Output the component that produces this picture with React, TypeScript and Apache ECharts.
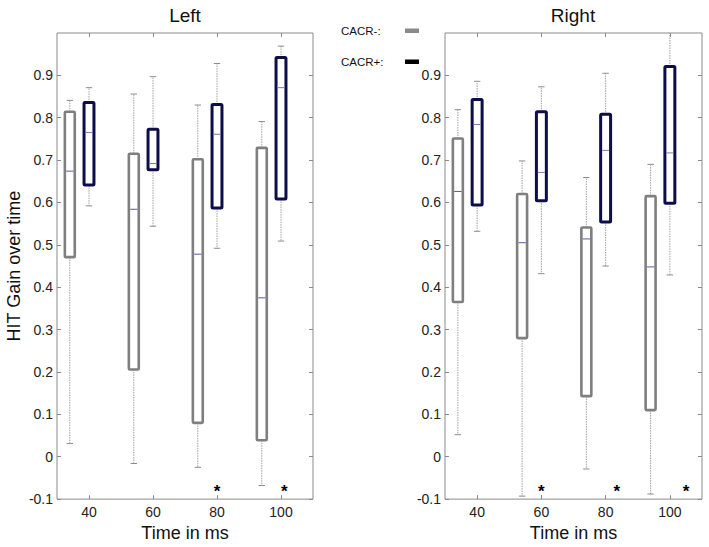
import React, { useEffect, useRef } from "react";
import * as echarts from "echarts";

// ---- data ----
const TIMES = [40, 60, 80, 100];
const X_TICKS = [40, 60, 80, 100];
const Y_TICKS = [-0.1, 0, 0.1, 0.2, 0.3, 0.4, 0.5, 0.6, 0.7, 0.8, 0.9];
const NEG_OFFSET = -6; // CACR- box sits left of its time tick

// [low whisker, q1, median, q3, high whisker]
const leftNeg = [
  [0.031, 0.471, 0.674, 0.814, 0.841],
  [-0.016, 0.206, 0.584, 0.715, 0.856],
  [-0.025, 0.08, 0.478, 0.702, 0.83],
  [-0.068, 0.039, 0.375, 0.729, 0.791],
];
const leftPos = [
  [0.592, 0.641, 0.765, 0.836, 0.871],
  [0.544, 0.677, 0.692, 0.773, 0.897],
  [0.492, 0.587, 0.761, 0.831, 0.928],
  [0.509, 0.608, 0.871, 0.942, 0.969],
];
const rightNeg = [
  [0.052, 0.365, 0.626, 0.751, 0.819],
  [-0.093, 0.28, 0.505, 0.62, 0.698],
  [-0.029, 0.143, 0.514, 0.541, 0.659],
  [-0.088, 0.11, 0.448, 0.615, 0.69],
];
const rightPos = [
  [0.532, 0.594, 0.784, 0.843, 0.886],
  [0.432, 0.604, 0.671, 0.814, 0.873],
  [0.45, 0.554, 0.723, 0.808, 0.905],
  [0.429, 0.598, 0.717, 0.921, 1.05],
];
const leftStarsX = [80, 101];
const rightStarsX = [60, 83.5, 105];
const STAR_Y = -0.072;

const FONT = "'Liberation Sans', Arial, Helvetica, sans-serif";
const BOX_W = 3.1;
const CAP_W = 2;

function toItems(stats: number[][], offset: number) {
  return stats.map((s, i) => [TIMES[i] + offset, ...s]);
}

function boxRender(stroke: string, lw: number, medColor: string) {
  return (params: any, api: any) => {
    const x = api.value(0);
    const lo = api.coord([x, api.value(1)]);
    const q1 = api.coord([x, api.value(2)]);
    const md = api.coord([x, api.value(3)]);
    const q3 = api.coord([x, api.value(4)]);
    const hi = api.coord([x, api.value(5)]);
    const w = api.size([BOX_W, 0])[0];
    const cw = api.size([CAP_W, 0])[0];
    const cx = lo[0];
    const wh = { stroke: "#a0a0a0", lineWidth: 1, lineDash: [1.5, 1] };
    const cap = { stroke: "#8c8c8c", lineWidth: 1 };
    return {
      type: "group",
      children: [
        { type: "line", shape: { x1: cx, y1: q3[1], x2: cx, y2: hi[1] }, style: wh },
        { type: "line", shape: { x1: cx, y1: q1[1], x2: cx, y2: lo[1] }, style: wh },
        { type: "line", shape: { x1: cx - cw / 2, y1: hi[1], x2: cx + cw / 2, y2: hi[1] }, style: cap },
        { type: "line", shape: { x1: cx - cw / 2, y1: lo[1], x2: cx + cw / 2, y2: lo[1] }, style: cap },
        {
          type: "rect",
          shape: { x: cx - w / 2, y: q3[1], width: w, height: q1[1] - q3[1], r: 1 },
          style: { fill: "#ffffff", stroke, lineWidth: lw },
        },
        {
          type: "line",
          shape: { x1: cx - w / 2 + lw / 2, y1: md[1], x2: cx + w / 2 - lw / 2, y2: md[1] },
          style: { stroke: medColor, lineWidth: 1 },
        },
      ],
    };
  };
}

function starRender(params: any, api: any) {
  const p = api.coord([api.value(0), api.value(1)]);
  return {
    type: "text",
    x: p[0],
    y: p[1] + 4,
    style: {
      text: "*",
      fontSize: 17,
      fontWeight: "bold",
      fontFamily: FONT,
      fill: "#000",
      textAlign: "center",
      textVerticalAlign: "middle",
    },
  };
}

function fmtY(v: number) {
  return Math.abs(v) < 1e-9 ? "0" : v.toFixed(1);
}

export default function App() {
  const ref = useRef<HTMLDivElement>(null);
  useEffect(() => {
    if (!ref.current) return;
    const chart = echarts.init(ref.current, undefined, { renderer: "svg" });
    const tickStyle = { show: true, inside: true, length: 4, lineStyle: { color: "#8a8a8a", width: 1 } };
    const labelStyle = { color: "#222", fontSize: 14, fontFamily: FONT };
    const mkX = (gi: number, pos: string, withLabel: boolean) => ({
      type: "value",
      gridIndex: gi,
      position: pos,
      min: 30,
      max: 110,
      axisLine: { show: false, onZero: false },
      splitLine: { show: false },
      axisTick: { ...tickStyle, customValues: X_TICKS },
      axisLabel: withLabel
        ? { ...labelStyle, margin: 6, customValues: X_TICKS }
        : { show: false },
      name: withLabel ? "Time in ms" : "",
      nameLocation: "middle",
      nameGap: 22,
      nameTextStyle: { fontSize: 18, color: "#111", fontFamily: FONT },
    });
    const mkY = (gi: number, pos: string, withLabel: boolean, name: string) => ({
      type: "value",
      gridIndex: gi,
      position: pos,
      min: -0.1,
      max: 1.0,
      axisLine: { show: false, onZero: false },
      splitLine: { show: false },
      axisTick: { ...tickStyle, customValues: Y_TICKS },
      axisLabel: withLabel
        ? { ...labelStyle, margin: 4, customValues: Y_TICKS, formatter: fmtY }
        : { show: false },
      name,
      nameLocation: "middle",
      nameGap: 34,
      nameTextStyle: { fontSize: 18, color: "#111", fontFamily: FONT },
    });
    const negStyle = { stroke: "#7f7f7f", lw: 2.6, med: "#5a5a9c" };
    const posStyle = { stroke: "#0d0d4a", lw: 3, med: "#7a7ab4" };
    const mkBox = (name: string, stats: number[][], off: number, xi: number, yi: number, st: any) => ({
      type: "custom",
      name,
      xAxisIndex: xi,
      yAxisIndex: yi,
      clip: true,
      renderItem: boxRender(st.stroke, st.lw, st.med),
      data: toItems(stats, off),
      z: 3,
    });
    const mkStars = (xs: number[], xi: number, yi: number) => ({
      type: "custom",
      xAxisIndex: xi,
      yAxisIndex: yi,
      renderItem: starRender,
      data: xs.map((x) => [x, STAR_Y]),
      z: 4,
    });
    chart.setOption({
      animation: false,
      backgroundColor: "#ffffff",
      grid: [
        { left: 57, top: 33, width: 256, height: 469, show: true, borderColor: "#8a8a8a", borderWidth: 1, backgroundColor: "transparent" },
        { left: 445, top: 33, width: 257, height: 469, show: true, borderColor: "#8a8a8a", borderWidth: 1, backgroundColor: "transparent" },
      ],
      xAxis: [mkX(0, "bottom", true), mkX(0, "top", false), mkX(1, "bottom", true), mkX(1, "top", false)],
      yAxis: [
        mkY(0, "left", true, "HIT Gain over time"),
        mkY(0, "right", false, ""),
        mkY(1, "left", true, ""),
        mkY(1, "right", false, ""),
      ],
      series: [
        mkBox("CACR-:", leftNeg, NEG_OFFSET, 0, 0, negStyle),
        mkBox("CACR+:", leftPos, 0, 0, 0, posStyle),
        mkBox("CACR-:", rightNeg, NEG_OFFSET, 2, 2, negStyle),
        mkBox("CACR+:", rightPos, 0, 2, 2, posStyle),
        mkStars(leftStarsX, 0, 0),
        mkStars(rightStarsX, 2, 2),
      ],
      graphic: [
        { type: "text", x: 185, y: 15, style: { text: "Left", fontSize: 19, fontFamily: FONT, fill: "#111", textAlign: "center", textVerticalAlign: "middle" } },
        { type: "text", x: 573, y: 15, style: { text: "Right", fontSize: 19, fontFamily: FONT, fill: "#111", textAlign: "center", textVerticalAlign: "middle" } },
        { type: "text", x: 341, y: 31, style: { text: "CACR-:", fontSize: 11.5, fontFamily: FONT, fill: "#111", textAlign: "left", textVerticalAlign: "middle" } },
        { type: "rect", shape: { x: 405, y: 28.5, width: 14, height: 4.5 }, style: { fill: "#8a8a8a" } },
        { type: "text", x: 341, y: 62, style: { text: "CACR+:", fontSize: 11.5, fontFamily: FONT, fill: "#111", textAlign: "left", textVerticalAlign: "middle" } },
        { type: "rect", shape: { x: 405, y: 59.5, width: 14, height: 4.5 }, style: { fill: "#000000" } },
      ],
    });
    return () => chart.dispose();
  }, []);
  return <div ref={ref} style={{ position: "fixed", left: 0, top: 0, width: 709, height: 547 }} />;
}
